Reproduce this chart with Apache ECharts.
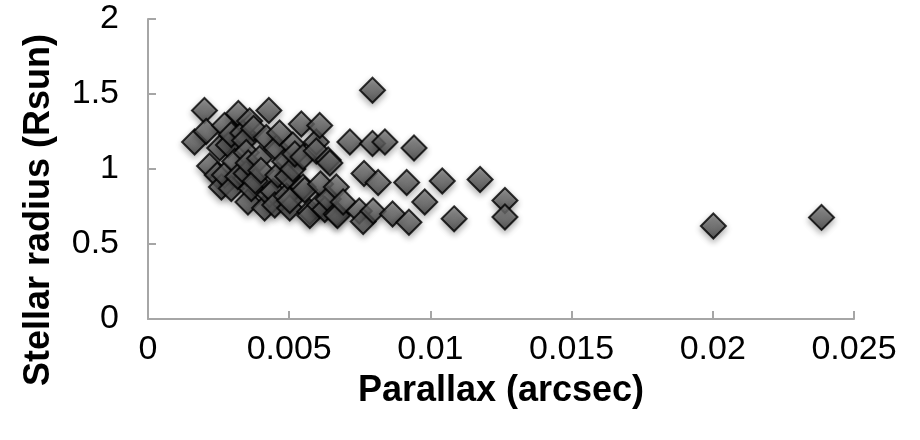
<!DOCTYPE html>
<html>
<head>
<meta charset="utf-8">
<script src="https://cdn.jsdelivr.net/npm/echarts@6/dist/echarts.min.js"></script>
<style>
html,body{margin:0;padding:0;background:#fff;}
#chart{width:920px;height:440px;}
</style>
</head>
<body>
<div id="chart"></div>
<script>
// Parallax (arcsec)
var parallax = [
  0.00165, 0.00200, 0.00206, 0.00218, 0.00245, 0.00254, 0.00260, 0.00271, 0.00271, 0.00285,
  0.00295, 0.00295, 0.00307, 0.00318, 0.00320, 0.00336, 0.00342, 0.00348, 0.00348, 0.00354,
  0.00355, 0.00360, 0.00366, 0.00374, 0.00380, 0.00395, 0.00400, 0.00413, 0.00419, 0.00428,
  0.00430, 0.00443, 0.00449, 0.00455, 0.00460, 0.00466, 0.00484, 0.00490, 0.00495, 0.00502,
  0.00502, 0.00513, 0.00513, 0.00520, 0.00543, 0.00549, 0.00549, 0.00555, 0.00573, 0.00573,
  0.00596, 0.00596, 0.00608, 0.00608, 0.00611, 0.00626, 0.00638, 0.00638, 0.00644, 0.00667,
  0.00667, 0.00671, 0.00691, 0.00715, 0.00748, 0.00762, 0.00765, 0.00795, 0.00795, 0.00797,
  0.00815, 0.00839, 0.00866, 0.00916, 0.00924, 0.00942, 0.00980, 0.01042, 0.01084, 0.01176,
  0.01264, 0.01264, 0.02002, 0.02385
];
// Stellar radius (Rsun)
var radius = [
  1.18, 1.39, 1.25, 1.02, 0.96, 1.14, 0.88, 1.29, 0.96, 1.16,
  1.23, 0.87, 1.05, 0.95, 1.37, 1.24, 1.19, 1.11, 0.97, 0.78,
  1.04, 1.32, 0.87, 1.27, 0.92, 1.07, 0.99, 0.74, 1.21, 1.39,
  0.83, 0.85, 0.76, 1.14, 0.96, 1.24, 1.05, 0.82, 0.95, 0.74,
  0.79, 1.16, 1.00, 1.10, 1.30, 1.08, 0.88, 0.86, 0.715, 0.69,
  1.18, 1.12, 1.29, 0.76, 0.90, 0.73, 1.06, 0.80, 1.04, 0.88,
  0.70, 0.69, 0.78, 1.18, 0.72, 0.65, 0.97, 1.525, 1.17, 0.72,
  0.91, 1.18, 0.70, 0.91, 0.645, 1.14, 0.78, 0.92, 0.668, 0.93,
  0.79, 0.68, 0.62, 0.677
];
var xTicks = ['0', '0.005', '0.01', '0.015', '0.02', '0.025'];
var yTicks = ['0', '0.5', '1', '1.5', '2'];
var xTitle = 'Parallax (arcsec)';
var yTitle = 'Stellar radius (Rsun)';

var points = parallax.map(function (x, i) { return [x, radius[i]]; });

var chart = echarts.init(document.getElementById('chart'), null, {renderer: 'canvas'});
var axisColor = '#a6a6a6';
var font = '"Liberation Sans", Arial, Helvetica, sans-serif';
chart.setOption({
  animation: false,
  backgroundColor: '#ffffff',
  grid: {left: 148, top: 19, right: 66, bottom: 121, containLabel: false},
  xAxis: {
    type: 'value', min: 0, max: 0.025, interval: 0.005,
    name: xTitle, nameLocation: 'middle', nameGap: 54,
    nameTextStyle: {fontFamily: font, fontSize: 36, fontWeight: 'bold', color: '#000'},
    axisLine: {show: true, lineStyle: {color: axisColor, width: 2}},
    axisTick: {show: true, inside: true, length: 8, lineStyle: {color: axisColor, width: 2}},
    splitLine: {show: false},
    axisLabel: {fontFamily: font, fontSize: 34, color: '#000', margin: 14,
      formatter: function (v) { var i = Math.round(v / 0.005); return xTicks[i] !== undefined ? xTicks[i] : ''; }}
  },
  yAxis: {
    type: 'value', min: 0, max: 2, interval: 0.5,
    axisLine: {show: true, lineStyle: {color: axisColor, width: 2}},
    axisTick: {show: true, inside: true, length: 8, lineStyle: {color: axisColor, width: 2}},
    splitLine: {show: false},
    axisLabel: {fontFamily: font, fontSize: 34, color: '#000', margin: 29,
      formatter: function (v) { var i = Math.round(v / 0.5); return yTicks[i] !== undefined ? yTicks[i] : ''; }}
  },
  graphic: [{
    type: 'text', x: 39, y: 210, rotation: Math.PI / 2,
    style: {text: yTitle, fontFamily: font, fontSize: 36, fontWeight: 'bold', fill: '#000',
      align: 'center', verticalAlign: 'middle'}
  }],
  series: [{
    type: 'scatter',
    symbol: 'diamond',
    symbolSize: 25,
    data: points,
    itemStyle: {
      color: new echarts.graphic.LinearGradient(0, 0, 0, 1, [
        {offset: 0, color: '#8c8c8c'},
        {offset: 1, color: '#3c3c3c'}
      ]),
      borderColor: '#000',
      borderWidth: 2,
      shadowBlur: 6,
      shadowOffsetY: 3,
      shadowColor: 'rgba(0,0,0,0.35)'
    }
  }]
});
</script>
</body>
</html>
